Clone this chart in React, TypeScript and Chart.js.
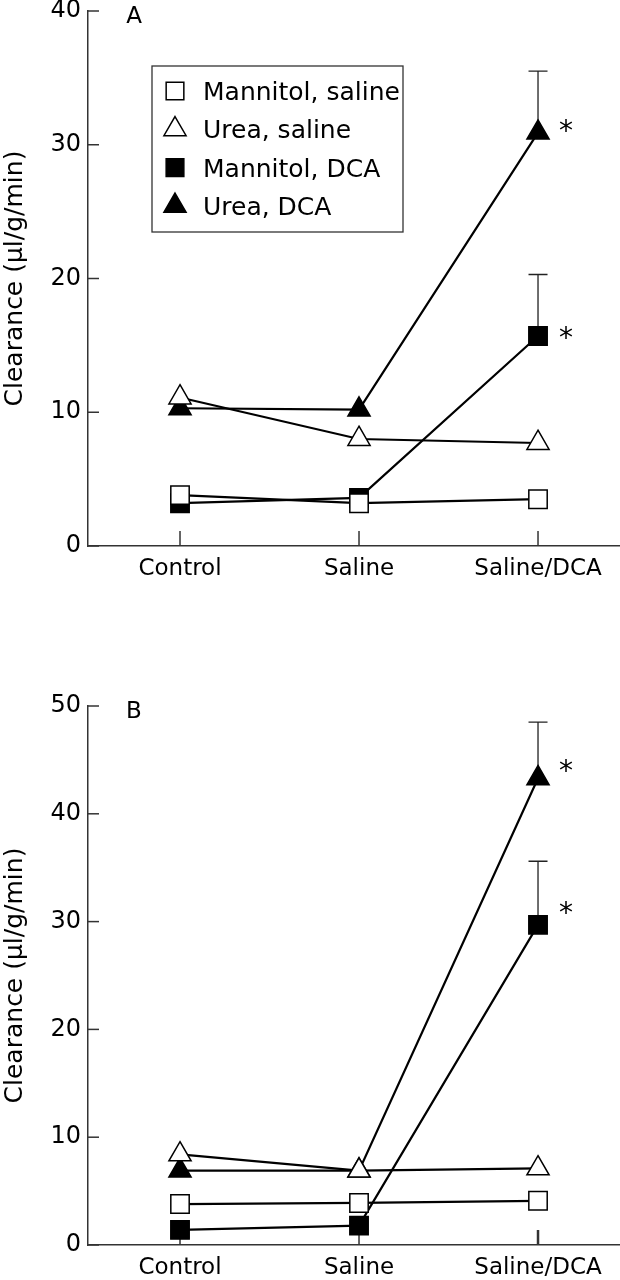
import React, { useEffect, useRef } from 'react';
import { Chart, registerables } from 'chart.js';
import { drawPoint } from 'chart.js/helpers';

Chart.register(...registerables);

const FONT = "'DejaVu Sans', sans-serif";
const AXIS = '#333';
const INK = '#000';

// ---- data ----
const categories = ['Control', 'Saline', 'Saline/DCA'];
const seriesNames = ['Mannitol, saline', 'Urea, saline', 'Mannitol, DCA', 'Urea, DCA'];
const yTitle = 'Clearance (µl/g/min)';

// Panel A
const aMannitolSaline = [3.8, 3.2, 3.5];
const aUreaSaline = [11.1, 8.0, 7.7];
const aMannitolDCA = [3.2, 3.6, 15.7];
const aUreaDCA = [10.3, 10.2, 30.9];
const aMannitolDCAErr = [null, null, 4.6];
const aUreaDCAErr = [null, null, 4.6];
const aYTicks = [0, 10, 20, 30, 40];

// Panel B
const bMannitolSaline = [3.8, 3.9, 4.1];
const bUreaSaline = [8.4, 6.9, 7.1];
const bMannitolDCA = [1.4, 1.8, 29.7];
const bUreaDCA = [6.9, 6.9, 43.3];
const bMannitolDCAErr = [null, null, 5.9];
const bUreaDCAErr = [null, null, 5.2];
const bYTicks = [0, 10, 20, 30, 40, 50];

// significance markers (which category carries an asterisk)
const starMannitolDCA = [false, false, true];
const starUreaDCA = [false, false, true];

const markerStyles = [
  { pointStyle: 'rect', fill: '#ffffff', radius: 13 },
  { pointStyle: 'triangle', fill: '#ffffff', radius: 12.8 },
  { pointStyle: 'rect', fill: '#000000', radius: 13 },
  { pointStyle: 'triangle', fill: '#000000', radius: 12.8 },
];

function buildDatasets(series: number[][], errs: (number | null)[][], stars: boolean[][]) {
  return series.map((vals, i) => ({
    label: seriesNames[i],
    data: vals.map((v, j) => ({ x: j, y: v })),
    err: errs[i],
    stars: stars[i],
    borderColor: '#000',
    borderWidth: 2.2,
    pointStyle: markerStyles[i].pointStyle,
    pointRadius: markerStyles[i].radius,
    pointHoverRadius: markerStyles[i].radius,
    pointBackgroundColor: markerStyles[i].fill,
    pointBorderColor: '#000',
    pointBorderWidth: 1.5,
    tension: 0,
    fill: false,
    clip: false,
  }));
}

const decorPlugin = {
  id: 'decor',
  beforeDatasetsDraw(chart: any, _args: any, opts: any) {
    const ctx = chart.ctx;
    const xs = chart.scales.x;
    const ys = chart.scales.y;
    const area = chart.chartArea;
    ctx.save();
    ctx.strokeStyle = AXIS;
    // y ticks pointing inward
    ctx.lineWidth = 1.5;
    ys.ticks.forEach((t: any) => {
      const py = ys.getPixelForValue(t.value);
      ctx.beginPath();
      ctx.moveTo(area.left, py);
      ctx.lineTo(area.left + 11, py);
      ctx.stroke();
    });
    // x ticks pointing up
    xs.ticks.forEach((t: any, i: number) => {
      const px = xs.getPixelForValue(t.value);
      ctx.lineWidth = (opts.xTickWidths && opts.xTickWidths[i]) || 1.5;
      ctx.beginPath();
      ctx.moveTo(px, area.bottom);
      ctx.lineTo(px, area.bottom - 15);
      ctx.stroke();
    });
    // error bars (upper half only)
    ctx.strokeStyle = '#222';
    ctx.lineWidth = 1.3;
    chart.data.datasets.forEach((ds: any) => {
      if (!ds.err) return;
      ds.data.forEach((p: any, j: number) => {
        const e = ds.err[j];
        if (e == null) return;
        const px = xs.getPixelForValue(p.x);
        const py = ys.getPixelForValue(p.y);
        const pt = ys.getPixelForValue(p.y + e);
        ctx.beginPath();
        ctx.moveTo(px, py);
        ctx.lineTo(px, pt);
        ctx.moveTo(px - 9.5, pt);
        ctx.lineTo(px + 9.5, pt);
        ctx.stroke();
      });
    });
    ctx.restore();
  },
  afterDraw(chart: any, _args: any, opts: any) {
    const ctx = chart.ctx;
    const xs = chart.scales.x;
    const ys = chart.scales.y;
    const area = chart.chartArea;
    ctx.save();
    ctx.fillStyle = INK;
    // asterisks
    ctx.font = `28px ${FONT}`;
    ctx.textAlign = 'center';
    ctx.textBaseline = 'alphabetic';
    chart.data.datasets.forEach((ds: any, i: number) => {
      if (!ds.stars) return;
      ds.data.forEach((p: any, j: number) => {
        if (!ds.stars[j]) return;
        const px = xs.getPixelForValue(p.x) + 28;
        const py = ys.getPixelForValue(p.y) + (opts.starOffsets ? opts.starOffsets[i] : -10);
        ctx.fillText('*', px, py + 17);
      });
    });
    // panel letter
    if (opts.letter) {
      ctx.font = `23px ${FONT}`;
      ctx.textAlign = 'center';
      ctx.fillText(opts.letter, area.left + 46, area.top + 4 + 8.4);
    }
    // legend box
    if (opts.legend) {
      const L = opts.legend;
      ctx.strokeStyle = AXIS;
      ctx.lineWidth = 1.3;
      ctx.strokeRect(L.x, L.y, L.w, L.h);
      chart.data.datasets.forEach((ds: any, i: number) => {
        const cy = L.y + L.firstRow + i * L.rowGap;
        ctx.fillStyle = markerStyles[i].fill;
        ctx.strokeStyle = '#000';
        ctx.lineWidth = 1.5;
        drawPoint(ctx, {
          pointStyle: markerStyles[i].pointStyle,
          radius: markerStyles[i].pointStyle === 'rect' ? 12.5 : 12.8,
          borderWidth: 1.5,
          rotation: 0,
        } as any, L.x + 23, cy);
        ctx.fillStyle = INK;
        ctx.font = `25px ${FONT}`;
        ctx.textAlign = 'left';
        ctx.textBaseline = 'alphabetic';
        ctx.fillText(ds.label, L.x + 51, cy + 9);
      });
    }
    ctx.restore();
  },
};

type PanelDef = {
  datasets: any[];
  yTicks: number[];
  padTop: number;
  xHeight: number;
  letter: string;
  legend?: any;
  starOffsets: number[];
  xTickWidths: number[];
};

function buildConfig(p: PanelDef): any {
  const yMax = p.yTicks[p.yTicks.length - 1];
  return {
    type: 'line',
    data: { datasets: p.datasets },
    options: {
      animation: false,
      responsive: false,
      devicePixelRatio: 1,
      events: [],
      layout: { autoPadding: false, padding: { top: p.padTop, left: 0, right: 0, bottom: 0 } },
      plugins: {
        legend: { display: false },
        tooltip: { enabled: false },
        decor: { letter: p.letter, legend: p.legend, starOffsets: p.starOffsets, xTickWidths: p.xTickWidths },
      },
      scales: {
        x: {
          type: 'linear',
          min: -0.514,
          max: 2.458,
          grid: { display: false, drawTicks: false },
          border: { display: true, color: AXIS, width: 1.5 },
          ticks: {
            padding: 9,
            autoSkip: false,
            maxRotation: 0,
            color: INK,
            font: { family: FONT, size: 23 },
            callback: (v: number) => categories[v] ?? '',
          },
          afterBuildTicks: (s: any) => {
            s.ticks = categories.map((_, i) => ({ value: i }));
          },
          afterFit: (s: any) => {
            s.height = p.xHeight;
            s.paddingLeft = 0;
            s.paddingRight = 0;
          },
        },
        y: {
          type: 'linear',
          min: 0,
          max: yMax,
          grid: { display: false, drawTicks: false },
          border: { display: true, color: AXIS, width: 1.5 },
          ticks: {
            padding: 7,
            color: INK,
            font: { family: FONT, size: 24 },
          },
          afterBuildTicks: (s: any) => {
            s.ticks = p.yTicks.map((v) => ({ value: v }));
          },
          title: {
            display: true,
            text: yTitle,
            color: INK,
            padding: 0,
            font: { family: FONT, size: 25, lineHeight: 1.2 },
          },
          afterFit: (s: any) => {
            s.width = 88;
            s.paddingTop = 0;
            s.paddingBottom = 0;
          },
        },
      },
    },
    plugins: [decorPlugin],
  };
}

function Panel({ def, top }: { def: PanelDef; top: number }) {
  const ref = useRef<HTMLCanvasElement | null>(null);
  useEffect(() => {
    if (!ref.current) return;
    const chart = new Chart(ref.current, buildConfig(def));
    return () => chart.destroy();
  }, [def]);
  return (
    <canvas
      ref={ref}
      width={620}
      height={640}
      style={{ position: 'absolute', left: 0, top, width: 620, height: 640, display: 'block' }}
    />
  );
}

const panelA: PanelDef = {
  datasets: buildDatasets(
    [aMannitolSaline, aUreaSaline, aMannitolDCA, aUreaDCA],
    [[], [], aMannitolDCAErr, aUreaDCAErr],
    [[], [], starMannitolDCA, starUreaDCA]
  ),
  yTicks: aYTicks,
  padTop: 11,
  xHeight: 94,
  letter: 'A',
  legend: { x: 152, y: 66, w: 251, h: 166, firstRow: 25, rowGap: 38.3 },
  starOffsets: [0, 0, -6, -10],
  xTickWidths: [1.5, 1.5, 1.5],
};

const panelB: PanelDef = {
  datasets: buildDatasets(
    [bMannitolSaline, bUreaSaline, bMannitolDCA, bUreaDCA],
    [[], [], bMannitolDCAErr, bUreaDCAErr],
    [[], [], starMannitolDCA, starUreaDCA]
  ),
  yTicks: bYTicks,
  padTop: 66,
  xHeight: 35,
  letter: 'B',
  starOffsets: [0, 0, -20, -15],
  xTickWidths: [1.5, 1.5, 2.5],
};

export default function App() {
  return (
    <div style={{ position: 'absolute', left: 0, top: 0, width: 620, height: 1280, background: '#fff', overflow: 'hidden' }}>
      <Panel def={panelA} top={0} />
      <Panel def={panelB} top={640} />
    </div>
  );
}
